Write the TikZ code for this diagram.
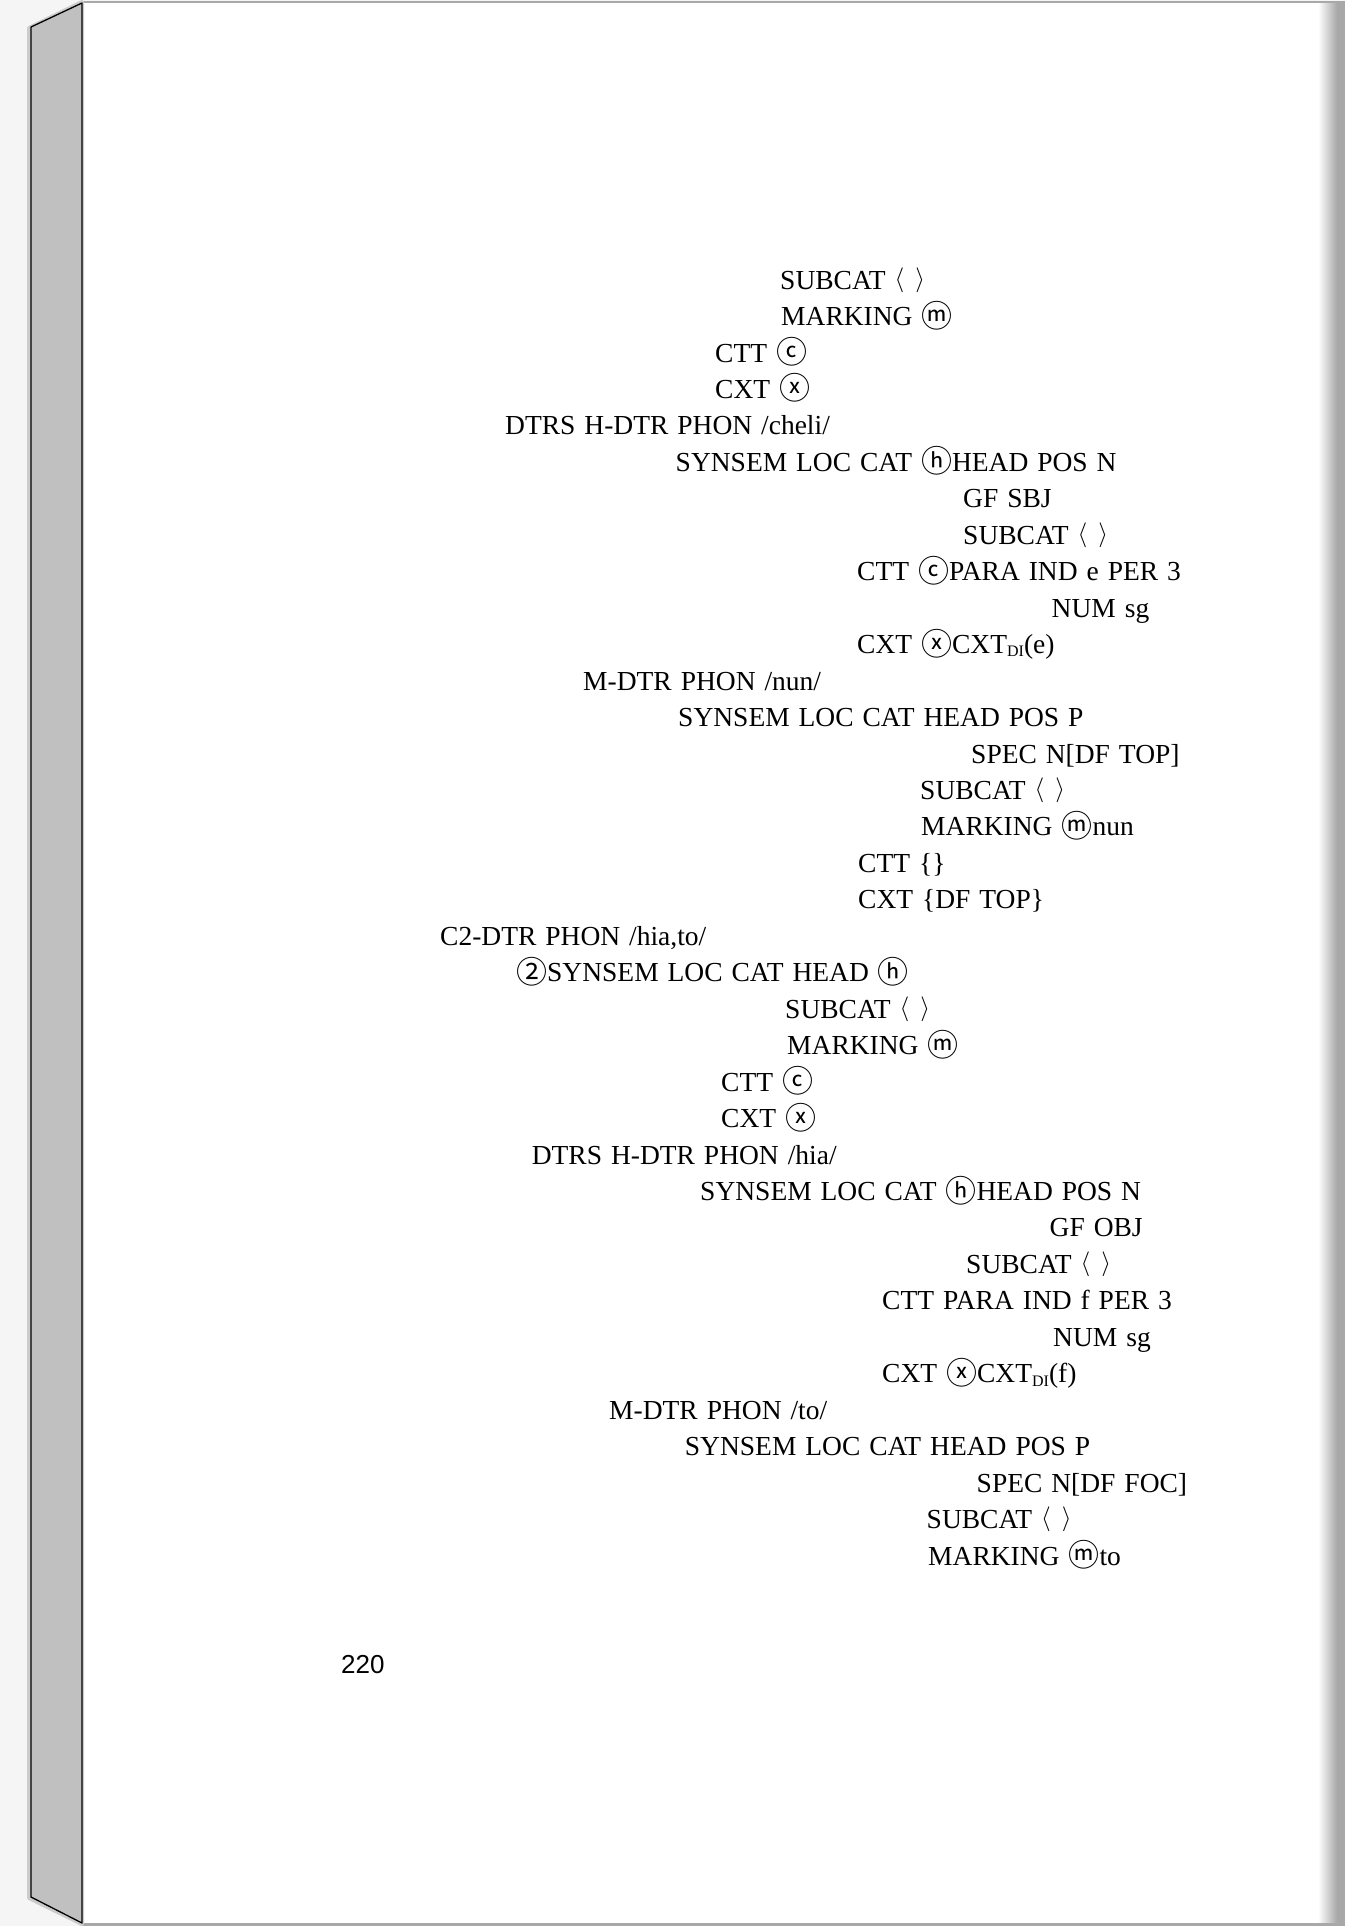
\documentclass[tikz,border=0pt]{standalone}
\usepackage{fontspec}
\setmainfont{Liberation Serif}[WordSpace=1.3]
\newfontfamily\cjkfont{Noto Sans CJK KR}
\newfontfamily\pgfont{Liberation Sans}
\newcommand\cir[1]{\raisebox{-1.5pt}{\cjkfont\fontsize{31}{31}\selectfont #1}}
\newcommand\ang{{\fontsize{24.88}{28}\selectfont\raisebox{0.12em}{$\langle$\kern0.45em$\rangle$}}}
\newcommand\dis{\raisebox{-0.12em}{\fontsize{16}{16}\selectfont DI}}
\definecolor{bgc}{HTML}{F5F5F5}
\definecolor{spinec}{HTML}{C0C0C0}
\definecolor{edgec}{HTML}{A8A8A8}
\tikzset{
  ln/.style={anchor=base west, inner sep=0pt, font=\fontsize{27.5}{33}\selectfont},
  pgn/.style={anchor=base west, inner sep=0pt, font=\pgfont\fontsize{26}{30}\selectfont},
}
\begin{document}
\begin{tikzpicture}[x=1pt,y=-1pt]
\useasboundingbox (0,0) rectangle (1345,1926);
% background and page
\fill[bgc] (0,0) rectangle (1345,1926);
\fill[white] (82,3) rectangle (1345,1923);
\shade[left color=white, right color=edgec] (1318,3) rectangle (1337,1923);
\fill[edgec] (1337,3) rectangle (1345,1923);
\draw[edgec, line width=2.5pt] (82,2) -- (1345,2);
\draw[edgec, line width=3pt] (82,1924.5) -- (1345,1924.5);
% spine
\draw[gray!40, line width=4pt, line join=round] (29,28) -- (82,2) -- (82,1924) -- (29,1898) -- cycle;
\filldraw[fill=spinec, draw=black, line width=1.3pt, line join=round] (31,27) -- (82,3) -- (82,1923) -- (31,1897) -- cycle;
% text lines
\node[ln] (l1)  at (780,289)    {SUBCAT \ang};
\node[ln] (l2)  at (781,325.5)  {MARKING \cir{ⓜ}};
\node[ln] (l3)  at (715,362)    {CTT \cir{ⓒ}};
\node[ln] (l4)  at (715,398.4)  {CXT \cir{ⓧ}};
\node[ln] (l5)  at (505,434.8)  {DTRS H-DTR PHON /cheli/};
\node[ln] (l6)  at (675.5,471.3){SYNSEM LOC CAT \cir{ⓗ}HEAD POS N};
\node[ln] (l7)  at (963,507.8)  {GF SBJ};
\node[ln] (l8)  at (963,544.2)  {SUBCAT \ang};
\node[ln] (l9)  at (857,580.7)  {CTT \cir{ⓒ}PARA IND e PER 3};
\node[ln] (l10) at (1051.5,617.1){NUM sg};
\node[ln] (l11) at (857,653.6)  {CXT \cir{ⓧ}CXT\dis(e)};
\node[ln] (l12) at (583,690)    {M-DTR PHON /nun/};
\node[ln] (l13) at (678,726.5)  {SYNSEM LOC CAT HEAD POS P};
\node[ln] (l14) at (971,763)    {SPEC N[DF TOP]};
\node[ln] (l15) at (920,799.4)  {SUBCAT \ang};
\node[ln] (l16) at (921,835.9)  {MARKING \cir{ⓜ}nun};
\node[ln] (l17) at (858,872.3)  {CTT \{\}};
\node[ln] (l18) at (858,908.8)  {CXT \{DF TOP\}};
\node[ln] (l19) at (440,945.3)  {C2-DTR PHON /hia,to/};
\node[ln] (l20) at (516,981.7)  {\cir{②}SYNSEM LOC CAT HEAD \cir{ⓗ}};
\node[ln] (l21) at (785,1018.2) {SUBCAT \ang};
\node[ln] (l22) at (787,1054.6) {MARKING \cir{ⓜ}};
\node[ln] (l23) at (721,1091.1) {CTT \cir{ⓒ}};
\node[ln] (l24) at (721,1127.5) {CXT \cir{ⓧ}};
\node[ln] (l25) at (531.6,1164) {DTRS H-DTR PHON /hia/};
\node[ln] (l26) at (700,1200.5) {SYNSEM LOC CAT \cir{ⓗ}HEAD POS N};
\node[ln] (l27) at (1049.5,1236.9){GF OBJ};
\node[ln] (l28) at (966,1273.4) {SUBCAT \ang};
\node[ln] (l29) at (882,1309.8) {CTT PARA IND f PER 3};
\node[ln] (l30) at (1053,1346.3){NUM sg};
\node[ln] (l31) at (882,1382.7) {CXT \cir{ⓧ}CXT\dis(f)};
\node[ln] (l32) at (609,1419.2) {M-DTR PHON /to/};
\node[ln] (l33) at (684.7,1455.7){SYNSEM LOC CAT HEAD POS P};
\node[ln] (l34) at (976.5,1492.1){SPEC N[DF FOC]};
\node[ln] (l35) at (926.5,1528.6){SUBCAT \ang};
\node[ln] (l36) at (928,1565)   {MARKING \cir{ⓜ}to};
% page number
\node[pgn] (pg) at (341,1673) {220};
\end{tikzpicture}
\end{document}
